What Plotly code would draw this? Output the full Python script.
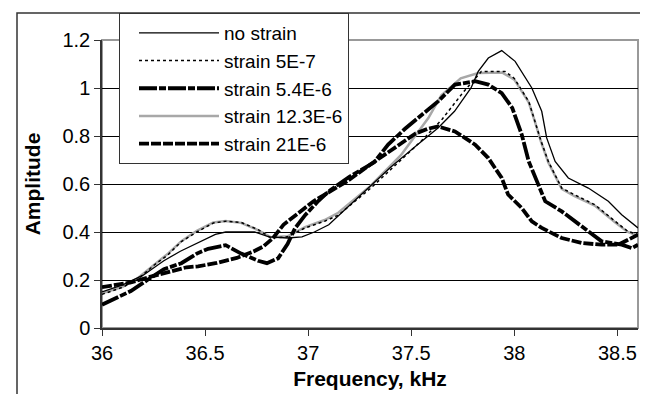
import plotly.graph_objects as go

# ---- data (frequency in kHz, amplitude) ----
f_no_strain = [36.0, 36.1, 36.2, 36.3, 36.38, 36.46, 36.55, 36.6, 36.74, 36.81, 36.9, 36.97, 37.03,
               37.1, 37.2, 37.3, 37.4, 37.53, 37.63, 37.71, 37.79, 37.825, 37.874, 37.939, 38.004,
               38.085, 38.133, 38.157, 38.198, 38.262, 38.359, 38.456, 38.521, 38.6]
a_no_strain = [0.15, 0.18, 0.22, 0.28, 0.32, 0.354, 0.39, 0.40, 0.40, 0.38, 0.375, 0.38, 0.40,
               0.43, 0.51, 0.59, 0.67, 0.764, 0.833, 0.903, 1.0, 1.069, 1.125, 1.156, 1.111,
               1.0, 0.903, 0.792, 0.694, 0.625, 0.583, 0.528, 0.472, 0.417]

f_5e7 = [36.0, 36.1, 36.17, 36.25, 36.32, 36.385, 36.46, 36.54, 36.6, 36.675, 36.757, 36.82, 36.9,
         36.985, 37.08, 37.146, 37.3, 37.45, 37.55, 37.65, 37.75, 37.84, 37.955, 38.0, 38.07, 38.1,
         38.13, 38.165, 38.23, 38.29, 38.39, 38.49, 38.55, 38.6]
a_5e7 = [0.14, 0.17, 0.2, 0.26, 0.305, 0.36, 0.40, 0.4375, 0.445, 0.44, 0.41, 0.375, 0.38,
         0.417, 0.445, 0.47, 0.58, 0.70, 0.78, 0.87, 0.98, 1.069, 1.069, 1.04, 0.944, 0.861,
         0.778, 0.694, 0.583, 0.556, 0.514, 0.444, 0.403, 0.389]

f_5_4e6 = [36.0, 36.07, 36.14, 36.22, 36.3, 36.385, 36.46, 36.515, 36.6, 36.675, 36.757, 36.8,
           36.854, 36.9, 36.936, 36.985, 37.05, 37.1, 37.2, 37.32, 37.388, 37.47, 37.55, 37.63,
           37.712, 37.81, 37.874, 37.939, 37.99, 38.036, 38.07, 38.117, 38.15, 38.23, 38.294,
           38.359, 38.424, 38.521, 38.57, 38.6]
a_5_4e6 = [0.097, 0.125, 0.154, 0.2, 0.245, 0.27, 0.31, 0.33, 0.345, 0.31, 0.28, 0.27,
           0.29, 0.35, 0.415, 0.47, 0.53, 0.57, 0.63, 0.69, 0.764, 0.83, 0.889, 0.944,
           1.014, 1.028, 1.014, 0.979, 0.917, 0.806, 0.694, 0.597, 0.528, 0.486, 0.444,
           0.403, 0.361, 0.347, 0.333, 0.347]

f_12_3e6 = [36.0, 36.1, 36.17, 36.25, 36.32, 36.385, 36.46, 36.54, 36.6, 36.675, 36.757, 36.82,
            36.9, 36.985, 37.08, 37.146, 37.3, 37.45, 37.583, 37.646, 37.74, 37.825, 37.94, 38.0,
            38.07, 38.1, 38.13, 38.165, 38.23, 38.29, 38.39, 38.49, 38.55, 38.6]
a_12_3e6 = [0.145, 0.172, 0.205, 0.262, 0.31, 0.362, 0.405, 0.44, 0.446, 0.438, 0.408, 0.378,
            0.382, 0.42, 0.45, 0.48, 0.59, 0.72, 0.875, 0.97, 1.04, 1.0625, 1.065, 1.035,
            0.94, 0.86, 0.775, 0.69, 0.58, 0.55, 0.51, 0.44, 0.40, 0.385]

f_21e6 = [36.0, 36.14, 36.22, 36.3, 36.41, 36.466, 36.557, 36.654, 36.735, 36.783, 36.83, 36.88,
          36.945, 37.026, 37.107, 37.188, 37.3, 37.42, 37.52, 37.58, 37.63, 37.712, 37.81,
          37.874, 37.939, 37.97, 38.036, 38.085, 38.133, 38.23, 38.327, 38.424, 38.505, 38.6]
a_21e6 = [0.17, 0.19, 0.21, 0.229, 0.253, 0.257, 0.271, 0.292, 0.319, 0.34, 0.375, 0.43,
          0.472, 0.528, 0.569, 0.611, 0.68, 0.75, 0.81, 0.83, 0.84, 0.819, 0.764,
          0.708, 0.625, 0.556, 0.5, 0.444, 0.417, 0.375, 0.354, 0.347, 0.347, 0.389]

names = ["no strain", "strain 5E-7", "strain 5.4E-6", "strain 12.3E-6", "strain 21E-6"]

x_ticks = [36, 36.5, 37, 37.5, 38, 38.5]
y_ticks = [0, 0.2, 0.4, 0.6, 0.8, 1, 1.2]

FONT = "Liberation Sans, Arial, sans-serif"
TICK_SIZE = 20
LEG_SIZE = 19
TITLE_SIZE = 21

styles = [
    dict(color="black", width=1.3, dash="solid"),
    dict(color="black", width=1.5, dash="dot"),
    dict(color="black", width=3.8, dash="18px,2px,7px,2px"),
    dict(color="#a8a8a8", width=2.5, dash="solid"),
    dict(color="black", width=3.8, dash="10px,2px"),
]
series = [(f_no_strain, a_no_strain), (f_5e7, a_5e7), (f_5_4e6, a_5_4e6),
          (f_12_3e6, a_12_3e6), (f_21e6, a_21e6)]

fig = go.Figure()
# grey first so the black curves sit on top; legendrank keeps the legend order
for i in [3, 1, 0, 4, 2]:
    fx, ay = series[i]
    fig.add_trace(go.Scatter(x=fx, y=ay, mode="lines", name=names[i], line=styles[i],
                             legendrank=i + 1))

L, R, T, B = 94, 18, 32, 74
W, H = 648, 394
pw, ph = W - L - R, H - T - B


def px_x(p):
    return (p - L) / pw


def px_y(p):
    return (H - B - p) / ph


fig.update_layout(
    width=W, height=H,
    margin=dict(l=L, r=R, t=T, b=B, autoexpand=False),
    paper_bgcolor="white", plot_bgcolor="white",
    font=dict(family=FONT, size=TICK_SIZE, color="black"),
    showlegend=True,
    legend=dict(
        x=px_x(111), y=px_y(5), xanchor="left", yanchor="top",
        bgcolor="white", bordercolor="#333", borderwidth=1,
        font=dict(family=FONT, size=LEG_SIZE, color="black"),
        itemwidth=80, indentation=14, traceorder="normal",
    ),
    xaxis=dict(
        range=[36, 38.6], tickvals=x_ticks, ticktext=[str(v) for v in x_ticks],
        ticks="outside", ticklen=6, tickcolor="#333", tickwidth=1,
        showline=True, linecolor="#333", linewidth=2,
        showgrid=False, zeroline=False, automargin=False,
        title=dict(text="<b>Frequency, kHz</b>", font=dict(family=FONT, size=TITLE_SIZE),
                   standoff=8),
        tickfont=dict(family=FONT, size=TICK_SIZE),
    ),
    yaxis=dict(
        range=[0, 1.2], tickvals=y_ticks, ticktext=[str(v) for v in y_ticks],
        ticks="outside", ticklen=6, tickcolor="#333", tickwidth=1,
        showline=True, linecolor="#333", linewidth=1.5,
        showgrid=True, gridcolor="black", gridwidth=1,
        zeroline=False, automargin=False,
        title=dict(text="<b>Amplitude</b>", font=dict(family=FONT, size=TITLE_SIZE),
                   standoff=16),
        tickfont=dict(family=FONT, size=TICK_SIZE),
    ),
    shapes=[
        dict(type="rect", xref="paper", yref="paper", x0=0, x1=1, y0=0, y1=1,
             line=dict(color="#999", width=2), layer="below"),
        dict(type="rect", xref="paper", yref="paper",
             x0=px_x(9), x1=px_x(640), y0=px_y(390), y1=px_y(5),
             line=dict(color="#333", width=1.5), layer="above"),
    ],
)

fig.write_html("out.html")
